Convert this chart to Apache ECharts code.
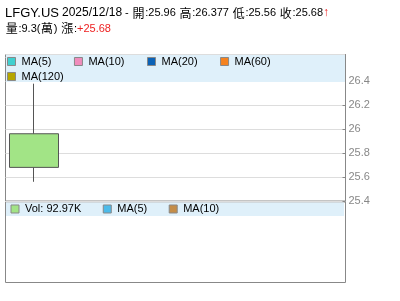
<!DOCTYPE html>
<html><head><meta charset="utf-8">
<script src="https://cdn.jsdelivr.net/npm/echarts@6/dist/echarts.min.js"></script>
<style>html,body{margin:0;padding:0;background:#fff}#c{width:400px;height:301px}</style>
</head><body><div id="c"></div>
<script>
// ---- data ----
const symbol = 'LFGY.US';
const dates = ['2025/12/18'];
const opens = [25.96];
const highs = [26.377];
const lows = [25.56];
const closes = [25.68];
const volumes = [92970];          // shares
const volumeWan = [9.3];          // 萬
const changes = [25.68];
const maNames = ['MA(5)', 'MA(10)', 'MA(20)', 'MA(60)', 'MA(120)'];
const maColors = ['#3fcfcf', '#f08cbc', '#0b62b6', '#f5821f', '#b5a600'];
const volMaNames = ['MA(5)', 'MA(10)'];
const volMaColors = ['#4cbbea', '#c48d48'];
const priceMin = 25.4, priceMax = 26.62, priceStep = 0.2, priceLabelTop = 26.4;

const FONT = '"Liberation Sans", Arial, "Noto Sans CJK TC", sans-serif';
const CJKFONT = '"Noto Sans CJK TC", sans-serif';
const chart = echarts.init(document.getElementById('c'), null, {renderer: 'canvas'});

const last = dates.length - 1;
const volLabel = 'Vol: ' + (volumes[last] / 1000).toFixed(2) + 'K';

// split a string into rich-text runs, CJK characters get their own style
function runs(str, style) {
  let out = '', buf = '', cur = null;
  const flush = () => { if (buf) out += '{' + (cur ? 'k' : style) + '|' + buf + '}'; buf = ''; };
  for (const ch of str) {
    const isCJK = /[\u3400-\u9fff]/.test(ch);
    if (cur !== null && isCJK !== cur) flush();
    cur = isCJK; buf += ch;
  }
  flush();
  return out;
}

const series = [{
  type: 'candlestick', name: 'K', xAxisIndex: 0, yAxisIndex: 0,
  barWidth: 50,
  data: dates.map((d, i) => [opens[i], closes[i], lows[i], highs[i]]),
  itemStyle: {color: '#a2e486', color0: '#a2e486', borderColor: '#555', borderColor0: '#555', borderWidth: 1}
}];
maNames.forEach((n, i) => series.push({type: 'line', name: n, xAxisIndex: 0, yAxisIndex: 0, data: [], color: maColors[i]}));
series.push({type: 'bar', name: volLabel, xAxisIndex: 1, yAxisIndex: 1, data: [], color: '#a2e486'});
volMaNames.forEach((n, i) => series.push({type: 'line', name: 'v' + n, xAxisIndex: 1, yAxisIndex: 1, data: [], color: volMaColors[i]}));

const legendCommon = {
  orient: 'horizontal', icon: 'rect', itemWidth: 8, itemHeight: 8, itemGap: 22.5, z: 20, padding: 0,
  itemStyle: {borderColor: '#888', borderWidth: 1},
  textStyle: {fontFamily: FONT, fontSize: 11, color: '#000', padding: [0, 0, 0, 1]},
  selectedMode: false
};

chart.setOption({
  animation: false,
  grid: [
    {left: 5.5, top: 54.5, width: 340, height: 146.5, show: true, borderColor: '#888', borderWidth: 1},
    {left: 5.5, top: 202, width: 340, height: 80.5, show: true, borderColor: '#888', borderWidth: 1}
  ],
  xAxis: [
    {type: 'category', gridIndex: 0, data: dates, max: 5, boundaryGap: true,
     axisLine: {show: false}, axisTick: {show: false}, axisLabel: {show: false}, splitLine: {show: false}},
    {type: 'category', gridIndex: 1, data: dates, max: 5, boundaryGap: true,
     axisLine: {show: false}, axisTick: {show: false}, axisLabel: {show: false}, splitLine: {show: false}}
  ],
  yAxis: [
    {type: 'value', gridIndex: 0, position: 'right', min: priceMin, max: priceMax, interval: priceStep,
     axisLine: {show: true, lineStyle: {color: '#888'}},
     axisTick: {show: true, inside: true, length: 3, lineStyle: {color: '#888'}},
     axisLabel: {showMaxLabel: false, color: '#888', fontFamily: FONT, fontSize: 11, margin: 3,
       formatter: v => (v > priceLabelTop + 1e-6 ? '' : String(+v.toFixed(2)))},
     splitLine: {show: true, lineStyle: {color: '#ddd'}}},
    {type: 'value', gridIndex: 1, position: 'right',
     axisLine: {show: false}, axisTick: {show: false}, axisLabel: {show: false}, splitLine: {show: false}}
  ],
  legend: [
    Object.assign({}, legendCommon, {left: 7, top: 56, data: maNames.slice(0, 4)}),
    Object.assign({}, legendCommon, {left: 7, top: 71, data: maNames.slice(4)}),
    Object.assign({}, legendCommon, {left: 10.5, top: 203.5, itemGap: 21.5, data: [volLabel].concat(volMaNames.map(n => 'v' + n)),
      formatter: n => n.charAt(0) === 'v' && n.charAt(1) === 'M' ? n.slice(1) : n})
  ],
  graphic: [
    {type: 'rect', z: 10, shape: {x: 6, y: 55, width: 339, height: 27}, style: {fill: '#dff0fa'}, silent: true},
    {type: 'rect', z: 10, shape: {x: 6, y: 202.5, width: 338, height: 13.5}, style: {fill: '#dff0fa'}, silent: true},
    {type: 'text', left: 5, top: 5, z: 30, style: {
      text: '{a|' + symbol + '} {d|' + dates[last] + '}' + runs(' - 開:' + opens[last] + ' 高:' + highs[last] +
            ' 低:' + lows[last] + ' 收:' + closes[last], 'b') + '{r|↑}\n' +
            runs('量:' + volumeWan[last] + '(萬) 漲:', 'b') + '{c|+' + changes[last] + '}',
      font: '11px ' + FONT, fill: '#000', lineHeight: 15,
      rich: {
        a: {fontSize: 13, fontFamily: FONT, fill: '#000', lineHeight: 16},
        d: {fontSize: 12, fontFamily: FONT, fill: '#000'},
        b: {fontSize: 11, fontFamily: FONT, fill: '#000'},
        k: {fontSize: 12, fontFamily: CJKFONT, fill: '#000', padding: [0, 0.7, 0, 0.7]},
        r: {fontSize: 12, fontFamily: FONT, fill: '#ee2222', fontWeight: 'bold'},
        c: {fontSize: 11, fontFamily: FONT, fill: '#ee2222'}
      }
    }}
  ],
  series: series
});
</script></body></html>
